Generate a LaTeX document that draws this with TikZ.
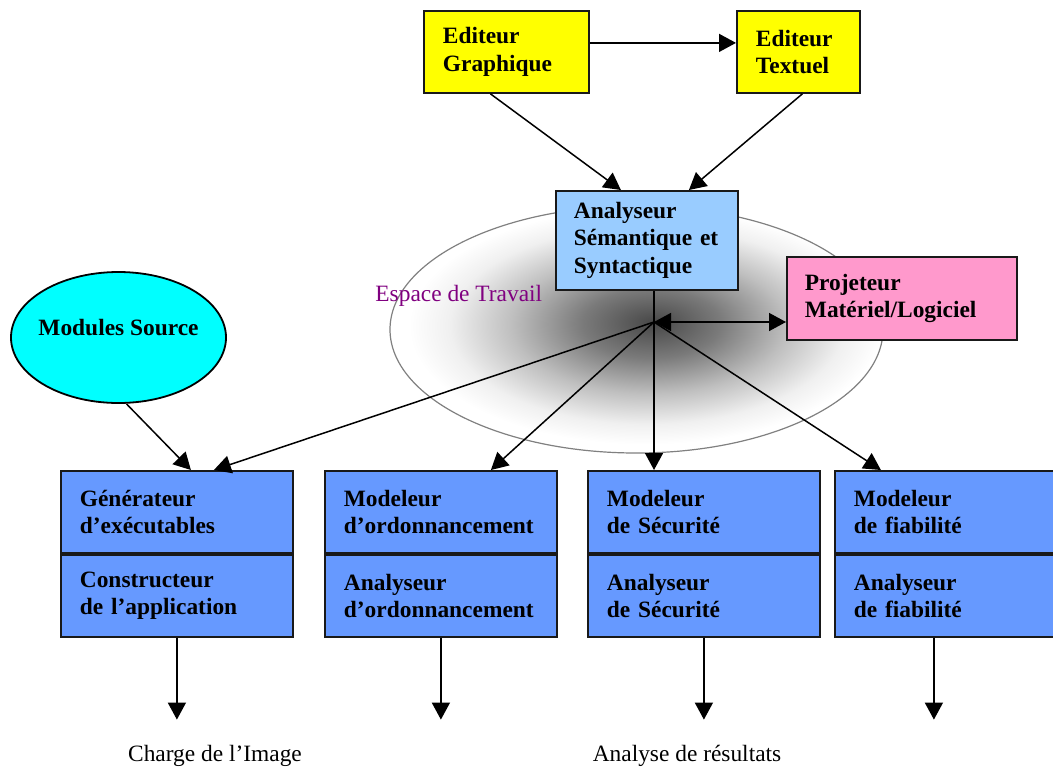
\documentclass[tikz,border=0pt]{standalone}
\usepackage{fontspec}
\setmainfont{Liberation Serif}
\usetikzlibrary{arrows.meta,positioning,shapes.geometric}

\definecolor{jaune}{HTML}{FFFF00}
\definecolor{bleuclair}{HTML}{99CCFF}
\definecolor{rose}{HTML}{FF99CC}
\definecolor{bleu}{HTML}{6699FF}
\definecolor{turquoise}{HTML}{00FFFF}
\definecolor{pourpre}{HTML}{800080}
\pgfdeclareradialshading{travail}{\pgfpoint{1.75bp}{1.4bp}}{color(0bp)=(black!72); color(7bp)=(black!52); color(14bp)=(black!25); color(20bp)=(black!6); color(24bp)=(white); color(50bp)=(white)}

\begin{document}
\begin{tikzpicture}[
		x=0.5pt, y=-0.5pt,
		font=\fontsize{11.7pt}{13.6pt}\selectfont,
		box/.style={draw=black!90, line width=0.9pt, anchor=north west, align=left, inner xsep=9.5pt, font=\fontsize{11.7pt}{13.6pt}\selectfont\bfseries},
		part/.style={box, fill=bleu, minimum width=116pt, minimum height=41pt, text width=97pt},
		arr/.style={-{Triangle[length=8.5pt, width=9pt]}, line width=0.75pt},
		dbl/.style={arr, {Triangle[length=8.5pt, width=9pt]}-{Triangle[length=8.5pt, width=9pt]}},
		]
		\useasboundingbox (0,0) rectangle (1053,766);
		
		% espace de travail
		\draw[black!50, line width=0.6pt, shade, shading=travail] (636.5,329.5) ellipse [x radius=123.25pt, y radius=61.75pt];
		\node[anchor=west, inner sep=0pt, text=pourpre] (espace) at (375,296) {Espace de Travail};
		
		\node[box, fill=jaune, minimum width=82.5pt, minimum height=41pt, text width=63.5pt] (graph) at (423,10) {Editeur\\Graphique};
		\node[box, fill=jaune, minimum width=61.5pt, minimum height=41pt, text width=42.5pt] (texte) at (736,10) {Editeur\\Textuel};
		\node[box, fill=bleuclair, inner xsep=9pt, minimum width=91pt, minimum height=49.5pt, text width=73pt] (anal) at (555,190) {Analyseur\\Sémantique et\\Syntactique};
		\node[box, fill=rose, inner xsep=9pt, minimum width=115pt, minimum height=41.5pt, text width=97pt] (proj) at (786,256) {Projeteur\\Matériel/Logiciel};
		\node[ellipse, draw, line width=0.9pt, fill=turquoise, minimum width=107.5pt, minimum height=65.5pt, inner xsep=-8pt, inner ysep=0pt, text depth=9.7pt, font=\fontsize{11.7pt}{13.6pt}\selectfont\bfseries] (mods) at (118.5,337.5) {Modules Source};
		
		% modeleurs et analyseurs
		\node[part] (gen) at (60,470) {Générateur\\d’exécutables};
		\node[part, below=0pt of gen] (cons) {Constructeur\\de l’application};
		\node[part] (ordoM) at (324,470) {Modeleur\\d’ordonnancement};
		\node[part, below=0pt of ordoM] (ordoA) {Analyseur\\d’ordonnancement};
		\node[part] (secuM) at (587,470) {Modeleur\\de Sécurité};
		\node[part, below=0pt of secuM] (secuA) {Analyseur\\de Sécurité};
		\node[part] (fiabM) at (834,470) {Modeleur\\de fiabilité};
		\node[part, below=0pt of fiabM] (fiabA) {Analyseur\\de fiabilité};
		
		\draw[arr] ([yshift=4.5pt]graph.east) -- ([yshift=4.5pt]texte.west);
		\draw[arr] ([xshift=-8pt]graph.south) -- ([xshift=-13pt]anal.north);
		\draw[arr] ([xshift=2pt]texte.south) -- ([xshift=21pt]anal.north);
		
		\coordinate (hub) at (654,322);
		\draw[line width=0.75pt] (hub |- anal.south) -- (hub);
		\draw[dbl] (hub) -- (hub -| proj.west);
		\draw[arr] (hub) -- (hub |- secuM.north);
		\draw[arr] (hub) -- ([xshift=18.5pt]gen.north);
		\draw[arr] (hub) -- ([xshift=25pt]ordoM.north);
		\draw[arr] (hub) -- ([xshift=-35pt]fiabM.north);
		\draw[arr] ([xshift=4pt]mods.south) -- ([xshift=7pt]gen.north);
		
		\foreach \b in {cons,ordoA,secuA}
		\draw[arr] (\b.south) -- ++(0,82);
		\draw[arr] ([xshift=-8.5pt]fiabA.south) -- ++(0,82);
		
		\node (charge) at (215,756) {Charge de l’Image};
		\node (resultats) at (687,756) {Analyse de résultats};
		
	\end{tikzpicture}
\end{document}
